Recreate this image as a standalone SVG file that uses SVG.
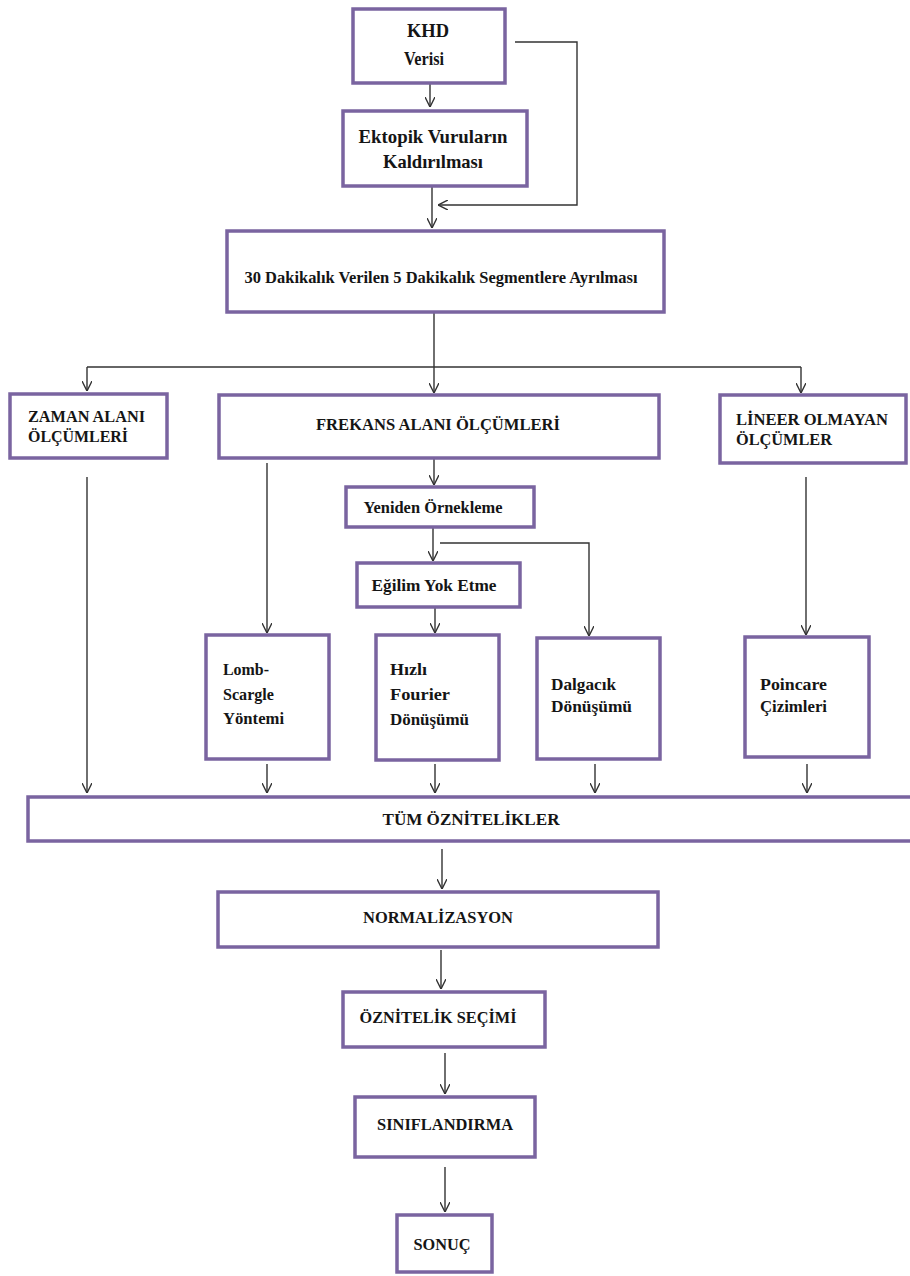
<svg xmlns="http://www.w3.org/2000/svg" width="910" height="1276" viewBox="0 0 910 1276">
<style>
.box{fill:#fff;stroke:#7a64a0;stroke-width:3.5}
.t{font-family:"Liberation Serif","Times New Roman",serif;font-weight:bold;fill:#151515}
.c{text-anchor:middle}
.ln{fill:none;stroke:#333;stroke-width:1.4}
</style>
<defs>
<marker id="ah" viewBox="0 0 10 10" refX="10" refY="5" markerWidth="10" markerHeight="10" markerUnits="userSpaceOnUse" orient="auto">
<path d="M0,0 L10,5 L0,10" fill="none" stroke="#333" stroke-width="1.4"/>
</marker>
</defs>
<rect width="910" height="1276" fill="#fff"/>
<g id="connectors">
<line class="ln" x1="430" y1="83" x2="430" y2="107" marker-end="url(#ah)"/>
<polyline class="ln" points="515,42 577,42 577,205 438,205" marker-end="url(#ah)"/>
<line class="ln" x1="432" y1="187" x2="432" y2="228" marker-end="url(#ah)"/>
<line class="ln" x1="434" y1="312" x2="434" y2="393" marker-end="url(#ah)"/>
<line class="ln" x1="87" y1="367" x2="801" y2="367"/>
<line class="ln" x1="87" y1="367" x2="87" y2="391" marker-end="url(#ah)"/>
<line class="ln" x1="801" y1="367" x2="801" y2="393" marker-end="url(#ah)"/>
<line class="ln" x1="87" y1="477" x2="87" y2="793" marker-end="url(#ah)"/>
<line class="ln" x1="267" y1="463" x2="267" y2="633" marker-end="url(#ah)"/>
<line class="ln" x1="434" y1="459" x2="434" y2="485" marker-end="url(#ah)"/>
<line class="ln" x1="433" y1="528" x2="433" y2="561" marker-end="url(#ah)"/>
<polyline class="ln" points="440,543 589,543 589,636" marker-end="url(#ah)"/>
<line class="ln" x1="435" y1="608" x2="435" y2="633" marker-end="url(#ah)"/>
<line class="ln" x1="806" y1="477" x2="806" y2="635" marker-end="url(#ah)"/>
<line class="ln" x1="267" y1="764" x2="267" y2="793" marker-end="url(#ah)"/>
<line class="ln" x1="435" y1="764" x2="435" y2="793" marker-end="url(#ah)"/>
<line class="ln" x1="595" y1="764" x2="595" y2="793" marker-end="url(#ah)"/>
<line class="ln" x1="807" y1="764" x2="807" y2="793" marker-end="url(#ah)"/>
<line class="ln" x1="442" y1="849" x2="442" y2="889" marker-end="url(#ah)"/>
<line class="ln" x1="441" y1="950" x2="441" y2="989" marker-end="url(#ah)"/>
<line class="ln" x1="445" y1="1053" x2="445" y2="1094" marker-end="url(#ah)"/>
<line class="ln" x1="445" y1="1167" x2="445" y2="1212" marker-end="url(#ah)"/>
</g>
<g id="khd"><rect class="box" x="353" y="9" width="152" height="74"/>
<text class="t c" x="428" y="37" font-size="19" textLength="42" lengthAdjust="spacingAndGlyphs">KHD</text>
<text class="t c" x="424" y="65" font-size="19" textLength="40" lengthAdjust="spacingAndGlyphs">Verisi</text></g>
<g id="ektopik"><rect class="box" x="343" y="111" width="184" height="75"/>
<text class="t c" x="433" y="143" font-size="19" textLength="149" lengthAdjust="spacingAndGlyphs">Ektopik Vuruların</text>
<text class="t c" x="433" y="168" font-size="19" textLength="100" lengthAdjust="spacingAndGlyphs">Kaldırılması</text></g>
<g id="segment"><rect class="box" x="227" y="231" width="437" height="81"/>
<text class="t c" x="441" y="283" font-size="17" textLength="393" lengthAdjust="spacingAndGlyphs">30 Dakikalık Verilen 5 Dakikalık Segmentlere Ayrılması</text></g>
<g id="zaman"><rect class="box" x="10" y="394" width="157" height="64"/>
<text class="t" x="28" y="422" font-size="17" textLength="117" lengthAdjust="spacingAndGlyphs">ZAMAN ALANI</text>
<text class="t" x="28" y="442" font-size="17" textLength="100" lengthAdjust="spacingAndGlyphs">ÖLÇÜMLERİ</text></g>
<g id="frekans"><rect class="box" x="219" y="395" width="440" height="63"/>
<text class="t c" x="438" y="430" font-size="17" textLength="244" lengthAdjust="spacingAndGlyphs">FREKANS ALANI ÖLÇÜMLERİ</text></g>
<g id="lineer"><rect class="box" x="720" y="395" width="186" height="68"/>
<text class="t" x="736" y="425" font-size="17" textLength="152" lengthAdjust="spacingAndGlyphs">LİNEER OLMAYAN</text>
<text class="t" x="736" y="445" font-size="17" textLength="96" lengthAdjust="spacingAndGlyphs">ÖLÇÜMLER</text></g>
<g id="yeniden"><rect class="box" x="346" y="487" width="188" height="40"/>
<text class="t c" x="433" y="513" font-size="16" textLength="139" lengthAdjust="spacingAndGlyphs">Yeniden Örnekleme</text></g>
<g id="egilim"><rect class="box" x="357" y="563" width="163" height="44"/>
<text class="t c" x="434" y="591" font-size="16" textLength="125" lengthAdjust="spacingAndGlyphs">Eğilim Yok Etme</text></g>
<g id="lomb"><rect class="box" x="206" y="635" width="123" height="124"/>
<text class="t" x="223" y="675" font-size="16" textLength="46" lengthAdjust="spacingAndGlyphs">Lomb-</text>
<text class="t" x="223" y="700" font-size="16" textLength="51" lengthAdjust="spacingAndGlyphs">Scargle</text>
<text class="t" x="223" y="724" font-size="16" textLength="61" lengthAdjust="spacingAndGlyphs">Yöntemi</text></g>
<g id="hizli"><rect class="box" x="376" y="635" width="123" height="125"/>
<text class="t" x="390" y="675" font-size="16" textLength="37" lengthAdjust="spacingAndGlyphs">Hızlı</text>
<text class="t" x="390" y="700" font-size="16" textLength="60" lengthAdjust="spacingAndGlyphs">Fourier</text>
<text class="t" x="390" y="725" font-size="16" textLength="79" lengthAdjust="spacingAndGlyphs">Dönüşümü</text></g>
<g id="dalgacik"><rect class="box" x="537" y="638" width="123" height="121"/>
<text class="t" x="551" y="690" font-size="16" textLength="65" lengthAdjust="spacingAndGlyphs">Dalgacık</text>
<text class="t" x="551" y="712" font-size="16" textLength="81" lengthAdjust="spacingAndGlyphs">Dönüşümü</text></g>
<g id="poincare"><rect class="box" x="745" y="637" width="124" height="120"/>
<text class="t" x="760" y="690" font-size="16" textLength="67" lengthAdjust="spacingAndGlyphs">Poincare</text>
<text class="t" x="760" y="712" font-size="16" textLength="67" lengthAdjust="spacingAndGlyphs">Çizimleri</text></g>
<g id="tum"><rect class="box" x="28" y="797" width="890" height="44"/>
<text class="t c" x="471" y="825" font-size="17" textLength="177" lengthAdjust="spacingAndGlyphs">TÜM ÖZNİTELİKLER</text></g>
<g id="normalizasyon"><rect class="box" x="218" y="892" width="440" height="55"/>
<text class="t c" x="438" y="923" font-size="17" textLength="150" lengthAdjust="spacingAndGlyphs">NORMALİZASYON</text></g>
<g id="secim"><rect class="box" x="343" y="992" width="202" height="55"/>
<text class="t c" x="438" y="1023" font-size="17" textLength="157" lengthAdjust="spacingAndGlyphs">ÖZNİTELİK SEÇİMİ</text></g>
<g id="siniflandirma"><rect class="box" x="355" y="1097" width="180" height="60"/>
<text class="t c" x="445" y="1130" font-size="17" textLength="136" lengthAdjust="spacingAndGlyphs">SINIFLANDIRMA</text></g>
<g id="sonuc"><rect class="box" x="397" y="1215" width="95" height="57"/>
<text class="t c" x="442" y="1250" font-size="17" textLength="57" lengthAdjust="spacingAndGlyphs">SONUÇ</text></g>
</svg>
